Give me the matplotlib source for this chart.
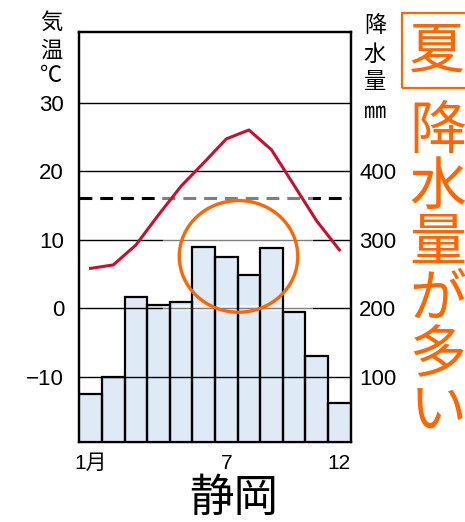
import matplotlib
matplotlib.use("Agg")
import matplotlib.pyplot as plt
from matplotlib.patches import Rectangle, Ellipse
from matplotlib.transforms import blended_transform_factory

plt.rcParams['font.family'] = ['Liberation Sans', 'Noto Sans CJK JP', 'DejaVu Sans']

# 静岡 monthly climate data
months = list(range(1, 13))
temperature = [5.8, 6.3, 9.2, 13.6, 17.8, 21.2, 24.7, 26.0, 23.1, 17.9, 12.7, 8.5]
precipitation = [74, 100, 216, 205, 209, 289, 275, 248, 288, 195, 130, 62]
annual_mean_temp = 16.0

temp_ticks = [-10, 0, 10, 20, 30]
temp_labels = ['\u221210', '0', '10', '20', '30']
prec_ticks = [100, 200, 300, 400, 500]
prec_labels = ['100', '200', '300', '400', '']
month_ticks = [1, 7, 12]
month_labels = ['1月', '7', '12']

W, H = 465, 522
fig = plt.figure(figsize=(W / 100, H / 100), dpi=100)
ax = fig.add_axes([79.3 / W, 1 - 441.7 / H, (350.7 - 79.3) / W, (441.7 - 32) / H])
ax2 = ax.twinx()

ax.set_xlim(0.5, 12.5)
ax.set_ylim(-19.5, 40.3)
ax2.set_ylim(5, 603)

# bars (fill), then grid, then fade, then bar outlines
ax2.bar(months, precipitation, width=1.0, color='#deebf7', edgecolor='none', zorder=1)
ax2.set_yticks(prec_ticks)
ax2.set_yticklabels(prec_labels, fontsize=16)
ax2.set_axisbelow(False)
ax2.grid(axis='y', color='black', linewidth=1.0)

tdata = ax.transData
hline_trans = blended_transform_factory(ax2.transAxes, ax.transData)
ax2.plot([0, 1], [annual_mean_temp, annual_mean_temp], transform=hline_trans,
         color='black', linewidth=2.2, dashes=(4.2, 2.6), zorder=2.6, clip_on=False)

# faded stretch of the horizontal lines behind the circle
for yl in [0, 10, annual_mean_temp]:
    ax2.add_patch(Rectangle((4.2, yl - 0.4), 6.65, 0.8, transform=tdata,
                            facecolor='white', edgecolor='none', alpha=0.5, zorder=3))

ax2.bar(months, precipitation, width=1.0, fill=False, edgecolor='black',
        linewidth=1.6, zorder=3.5)

ax2.plot(months, temperature, transform=tdata, color='#c8102e', linewidth=2.2, zorder=4)

ax2.add_patch(Ellipse((7.54, 7.55), 5.24, 16.3, transform=tdata, fill=False,
                      edgecolor='#ff6600', linewidth=2.4, zorder=5))

ax.set_yticks(temp_ticks)
ax.set_yticklabels(temp_labels, fontsize=16)
ax.set_xticks(month_ticks)
ax.set_xticklabels(month_labels, fontsize=15)
ax.tick_params(axis='y', length=0, pad=11)
ax.tick_params(axis='x', length=0, pad=9)
ax2.tick_params(axis='y', length=0, pad=6)

for a in (ax, ax2):
    for s in a.spines.values():
        s.set_linewidth(1.6)
        s.set_zorder(6)


def px_text(x, y, s, **kw):
    fig.text(x / W, 1 - y / H, s, ha='center', va='center', **kw)


# axis titles, stacked vertically
for ch, y in zip(['気', '温', '℃'], [22, 50, 76]):
    px_text(51, y, ch, fontsize=16, family=['Noto Sans CJK JP'])
for ch, y in zip(['降', '水', '量', '㎜'], [26, 54, 82, 111]):
    px_text(375, y, ch, fontsize=16, family=['Noto Sans CJK JP'])

# annotation
orange = '#ff6600'
fig.add_artist(Rectangle((401.7 / W, 1 - 88.3 / H), 0.2, 75.6 / H,
                         transform=fig.transFigure, fill=False,
                         edgecolor=orange, linewidth=1.6))
px_text(437, 52, '夏', fontsize=40, color=orange, family=['Noto Sans CJK JP'])
for i, ch in enumerate('降水量が多い'):
    px_text(438, 132 + 56 * i, ch, fontsize=41, color=orange, family=['Noto Sans CJK JP'])

px_text(234, 498, '静岡', fontsize=32, family=['Noto Sans CJK JP'])

fig.savefig('out.png', dpi=100, facecolor='white')
